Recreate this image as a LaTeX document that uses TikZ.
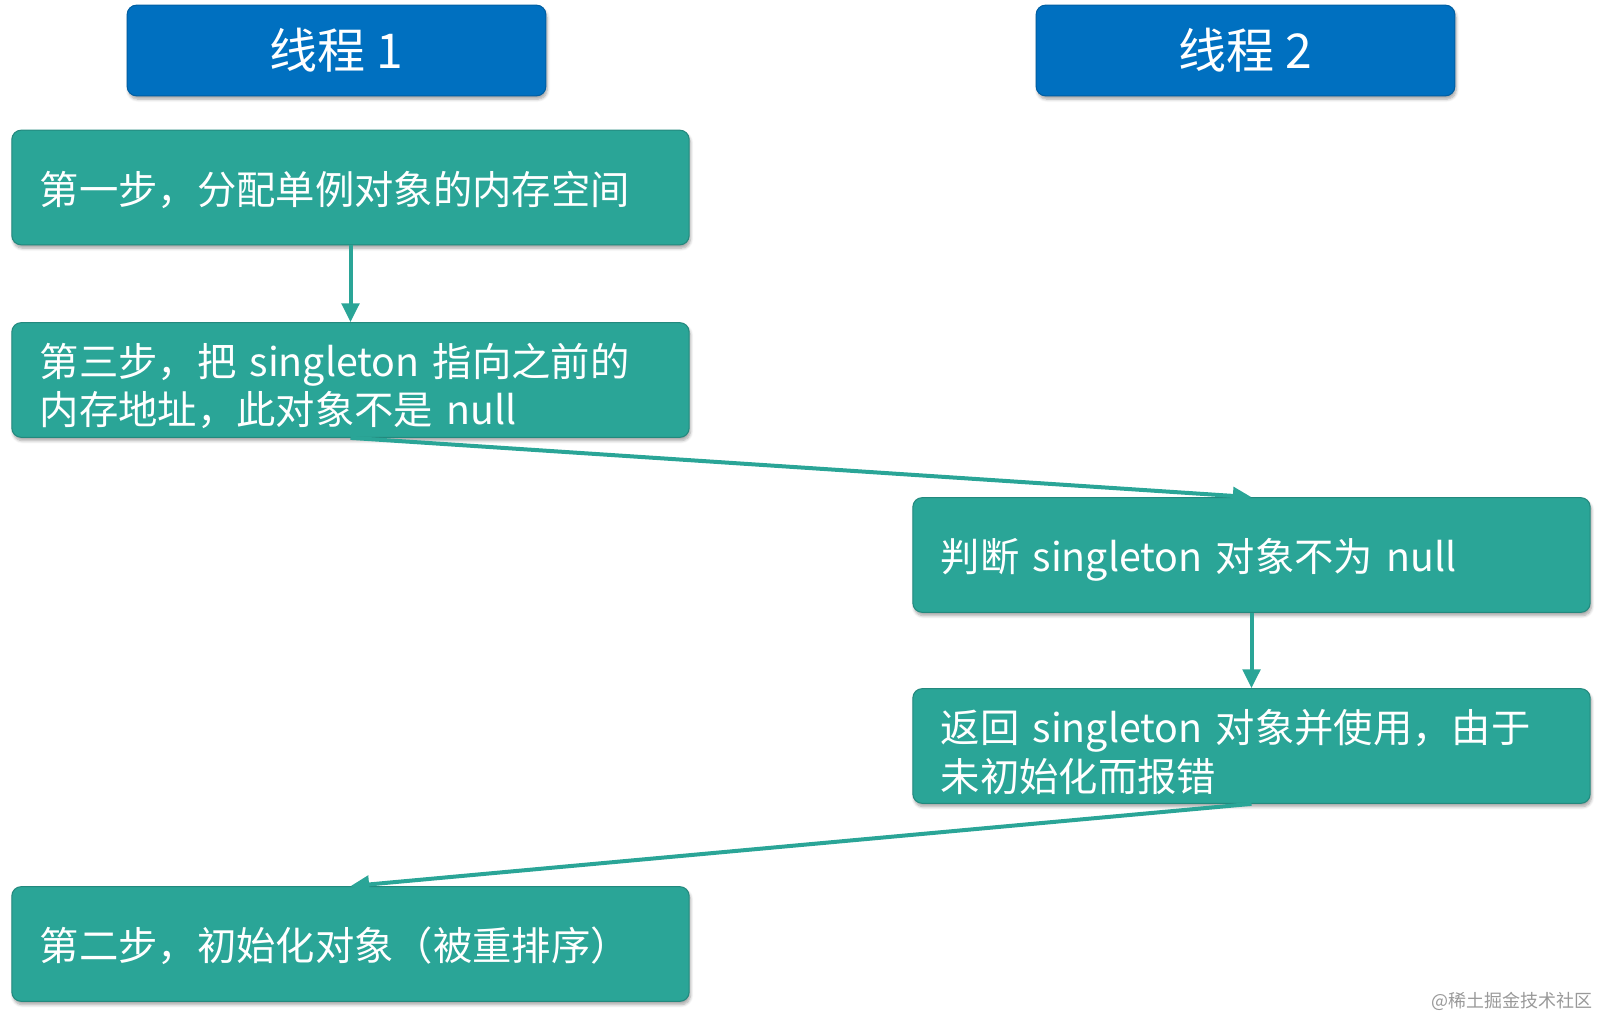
\documentclass[tikz,border=0pt]{standalone}
\usepackage{fontspec}
\setmainfont{Noto Sans CJK SC}
\usepackage{tikz}
\usetikzlibrary{arrows.meta}
\usetikzlibrary{shadows.blur}
\definecolor{headblue}{HTML}{0070C0}
\definecolor{stepteal}{HTML}{2AA597}
\definecolor{stepedge}{HTML}{23897E}
\tikzset{
  headbox/.style={rounded corners=7pt, fill=headblue, draw=headblue!85!black, line width=0.8pt,
    minimum width=314pt, minimum height=68pt, text=white, font=\fontsize{36}{40}\selectfont,
    blur shadow={shadow xshift=1pt, shadow yshift=-2.5pt, shadow blur steps=6, shadow opacity=35}},
  stepbox/.style={rounded corners=7pt, fill=stepteal, draw=stepedge, line width=0.8pt,
    text width=466pt, inner xsep=21pt, minimum height=86pt, align=left, text=white,
    font=\fontsize{29.5}{36.4}\selectfont, execute at end node={\par\vspace{-9pt}},
    blur shadow={shadow xshift=1pt, shadow yshift=-2.5pt, shadow blur steps=6, shadow opacity=35}},
  flow/.style={draw=stepteal, line width=3pt, -{Triangle[length=14pt, width=13pt]}}
}
\begin{document}
\begin{tikzpicture}[x=0.75pt,y=0.75pt,yscale=-1,xscale=1]
\useasboundingbox (0,0) rectangle (1600,1019);
% headers
\node [headbox] (t1) at (336.5,50.5) {线程 1};
\node [headbox] (t2) at (1245.5,50.5) {线程 2};
% steps
\node [stepbox] (alloc) at (350.5,187.5) {第一步，分配单例对象的内存空间};
\node [stepbox] (assign) at (350.5,380) {第三步，把 singleton 指向之前的\\内存地址，此对象不是 null};
\node [stepbox] (check) at (1251.5,555) {判断 singleton 对象不为 null};
\node [stepbox] (use) at (1251.5,746) {返回 singleton 对象并使用，由于\\未初始化而报错};
\node [stepbox] (init) at (350.5,944) {第二步，初始化对象（被重排序）};
% arrows
\draw [flow] (alloc.south) -- (assign.north);
\draw [flow] (assign.south) -- (check.north);
\draw [flow] (check.south) -- (use.north);
\draw [flow] (use.south) -- (init.north);
\draw (1594,1007) node [anchor=base east] [inner sep=0.75pt, text=black!40, font=\fontsize{13.5}{15}\selectfont] (mark) {@稀土掘金技术社区};
\end{tikzpicture}
\end{document}
